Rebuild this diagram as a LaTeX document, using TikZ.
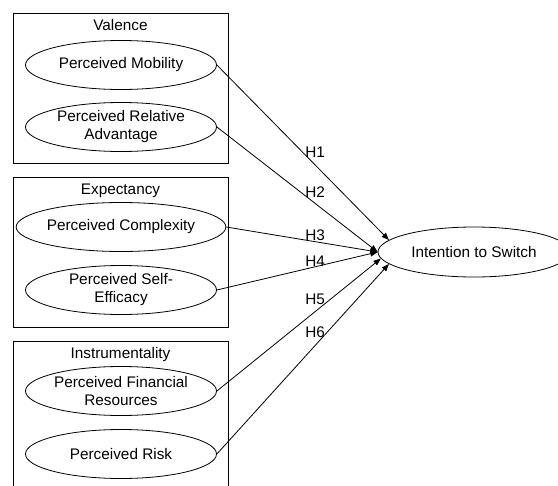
\documentclass[tikz,border=0pt]{standalone}
\usepackage{fontspec}
\setmainfont{Liberation Sans}
\usepackage{tikz}
\usetikzlibrary{arrows.meta, positioning, shapes.geometric}
\tikzset{
  grp/.style={draw, line width=0.6pt, minimum width=161.25pt,
              minimum height=112.5pt, inner sep=0pt},
  grptitle/.style={font=\fontsize{11.5}{13.5}\selectfont, anchor=base, inner sep=0pt},
  cons/.style={draw, ellipse, line width=0.6pt, align=center,
               font=\fontsize{11.5}{13.5}\selectfont, inner sep=0pt,
               minimum width=143.25pt, minimum height=36.75pt},
  target/.style={cons, minimum width=144pt, minimum height=37.5pt},
  hyp/.style={-{Triangle[length=5.5pt, width=4.2pt]}, line width=0.6pt},
  hlbl/.style={font=\fontsize{11.5}{13.5}\selectfont, anchor=base west, inner sep=0pt},
}
\begin{document}
\begin{tikzpicture}[x=0.75pt, y=-0.75pt]
  \useasboundingbox (0,0) rectangle (558,486);
  \clip (0,0) rectangle (558,486);
  % groups
  \node[grp] (val) at (120.5,88) {};
  \node[grp] (exp) at (120.5,252) {};
  \node[grp] (ins) at (120.5,416) {};
  \node[grptitle] (valt) at (120.5,30) {Valence};
  \node[grptitle] (expt) at (120.5,194) {Expectancy};
  \node[grptitle] (inst) at (120.5,358) {Instrumentality};
  % constructs
  \node[cons] (mob) at (121,65) {Perceived Mobility};
  \node[cons] (adv) at (121,127) {Perceived Relative\\Advantage};
  \node[cons] (cpx) at (121,227) {Perceived Complexity};
  \node[cons] (eff) at (121,290) {Perceived Self-\\Efficacy};
  \node[cons] (fin) at (121,391) {Perceived Financial\\Resources};
  \node[cons] (risk) at (121,454) {Perceived Risk};
  % outcome
  \node[target] (int) at (474,252) {Intention to Switch};
  % hypotheses
  \draw[hyp] (mob.east) -- (int.172);
  \draw[hyp] (adv.east) -- (int.west);
  \draw[hyp] (cpx.east) -- (int.west);
  \draw[hyp] (eff.east) -- (int.west);
  \draw[hyp] (fin.east) -- (int.184);
  \draw[hyp] (risk.east) -- (int.188);
  \node[hlbl] (h1) at (305,157) {H1};
  \node[hlbl] (h2) at (305,197) {H2};
  \node[hlbl] (h3) at (305,240) {H3};
  \node[hlbl] (h4) at (305,266) {H4};
  \node[hlbl] (h5) at (305,304) {H5};
  \node[hlbl] (h6) at (305,337) {H6};
\end{tikzpicture}
\end{document}
